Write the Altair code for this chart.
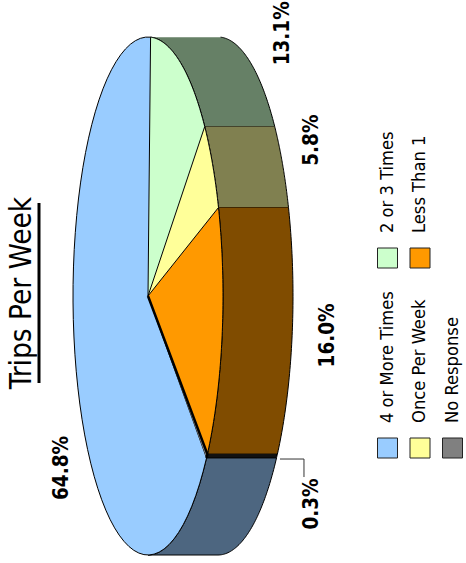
import altair as alt
import pandas as pd

# ---- data -------------------------------------------------------------
categories = ["4 or More Times", "2 or 3 Times", "Once Per Week", "Less Than 1", "No Response"]
shares = [64.8, 13.1, 5.8, 16.0, 0.3]
top_colors = ["#99ccff", "#ccffcc", "#ffff99", "#ff9900", "#808080"]
side_colors = ["#4d6680", "#668066", "#808050", "#804c00", "#111111"]
# small nudges of the percentage labels away from their radial anchor
label_dx = [23, 13, -9, -9, 0]
label_dy = [51, -1, -9, -5, 0]

title_text = "Trips Per Week"

# ---- geometry of the tilted, turned pie (drawing-area pixels) ----------
W, H = 466, 563
CX, CY = 148, 296          # centre of the top face
RX, RY = 75, 259           # semi-axes of the top face
DEPTH = 70                 # thickness of the pie
START = 128.7              # first slice start, degrees clockwise from top
N = 60                     # arc resolution per slice
LRX, LRY = 120, 290        # label ellipse
FONT = "Liberation Sans Narrow, Arial Narrow, DejaVu Sans Condensed, Liberation Sans, sans-serif"

slices = pd.DataFrame({
    "category": categories,
    "share": shares,
    "idx": list(range(len(categories))),
    "top": top_colors,
    "side": side_colors,
    "ldx": label_dx,
    "ldy": label_dy,
})

xs = alt.Scale(domain=[0, W], nice=False, zero=False)
ys = alt.Scale(domain=[0, H], nice=False, zero=False, reverse=True)


def xy(xf="px", yf="py"):
    return dict(
        x=alt.X(f"{xf}:Q", scale=xs, axis=None),
        y=alt.Y(f"{yf}:Q", scale=ys, axis=None),
    )


base = alt.Chart(slices).transform_window(
    cum="sum(share)", sort=[alt.SortField("idx")], frame=[None, 0]
).transform_joinaggregate(
    total="sum(share)"
).transform_calculate(
    a1=f"{START} + 360 * (datum.cum - datum.share) / datum.total",
    a2=f"{START} + 360 * datum.cum / datum.total",
    sw="datum.share < 1 ? 2.5 : 1",
)

# side walls: only the half facing the viewer
side = base.transform_calculate(
    k="floor(datum.a1 / 360)"
).transform_calculate(
    lo="max(datum.a1, datum.k * 360)",
    hi="min(datum.a2, datum.k * 360 + 180)",
).transform_filter(
    "datum.hi > datum.lo"
).transform_calculate(
    step=f"sequence(0, {2 * N + 2})"
).transform_flatten(["step"]).transform_calculate(
    t=f"datum.step <= {N} ? datum.step : {2 * N + 1} - datum.step",
).transform_calculate(
    ang=f"(datum.lo + (datum.hi - datum.lo) * datum.t / {N}) * PI / 180",
).transform_calculate(
    px=f"{CX} + {RX} * sin(datum.ang) + (datum.step > {N} ? {DEPTH} : 0)",
    py=f"{CY} - {RY} * cos(datum.ang)",
).mark_line(filled=True, stroke="black", strokeWidth=1, strokeJoin="round").encode(
    **xy(), order="step:Q", detail="category:N",
    color=alt.Color("side:N", scale=None),
)

# top faces: wedge from the centre along the arc
top = base.transform_calculate(
    step=f"sequence(-1, {N + 1})"
).transform_flatten(["step"]).transform_calculate(
    ang=f"(datum.a1 + (datum.a2 - datum.a1) * max(datum.step, 0) / {N}) * PI / 180",
).transform_calculate(
    px=f"datum.step < 0 ? {CX} : {CX} + {RX} * sin(datum.ang)",
    py=f"datum.step < 0 ? {CY} : {CY} - {RY} * cos(datum.ang)",
).mark_line(filled=True, stroke="black", strokeJoin="round").encode(
    **xy(), order="step:Q", detail="category:N",
    color=alt.Color("top:N", scale=None),
    strokeWidth=alt.StrokeWidth("sw:Q", scale=None),
)

# percentage labels of the larger slices
big_labels = base.transform_filter("datum.share >= 1").transform_calculate(
    mid="(datum.a1 + datum.a2) / 2 * PI / 180",
).transform_calculate(
    lx=f"{CX} + {LRX} * sin(datum.mid) + (sin(datum.mid) > 0 ? {DEPTH} : 0) + datum.ldx",
    ly=f"{CY} - {LRY} * cos(datum.mid) + datum.ldy",
    txt="format(datum.share, '.1f') + '%'",
).mark_text(angle=270, align="center", baseline="middle", fontSize=20.5,
            fontWeight="bold", font=FONT, color="black").encode(
    **xy("lx", "ly"), text="txt:N"
)

# tiny slices get a leader line from the outer wall
small = base.transform_filter("datum.share < 1").transform_calculate(
    mid="(datum.a1 + datum.a2) / 2 * PI / 180",
).transform_calculate(
    ex=f"{CX} + {RX} * sin(datum.mid) + {DEPTH}",
    ey=f"{CY} - {RY} * cos(datum.mid)",
    txt="format(datum.share, '.1f') + '%'",
)

leader = small.transform_calculate(step="sequence(0, 3)").transform_flatten(["step"]).transform_calculate(
    px="datum.ex + (datum.step == 0 ? 3 : 27)",
    py="datum.ey + (datum.step == 2 ? 21 : 3)",
).mark_line(stroke="#333333", strokeWidth=1).encode(
    **xy(), order="step:Q", detail="category:N"
)

small_labels = small.transform_calculate(
    lx="datum.ex + 35", ly="datum.ey + 48"
).mark_text(angle=270, align="center", baseline="middle", fontSize=20.5,
            fontWeight="bold", font=FONT, color="black").encode(
    **xy("lx", "ly"), text="txt:N"
)

# legend: two columns, filled row by row, drawn turned like the chart
legend_base = alt.Chart(slices).transform_calculate(
    row="floor(datum.idx / 2)",
    col="datum.idx % 2",
).transform_calculate(
    sx="387.5 + 32.5 * datum.row",
    sy="448 - 190 * datum.col",
).transform_calculate(
    tx="datum.sx",
    ty="datum.sy - 25",
)

legend_boxes = legend_base.mark_square(size=400, filled=True, stroke="#222222",
                                       strokeWidth=1, opacity=1).encode(
    **xy("sx", "sy"), color=alt.Color("top:N", scale=None)
)

legend_text = legend_base.mark_text(angle=270, align="left", baseline="middle",
                                    fontSize=18.2, font=FONT, color="black").encode(
    **xy("tx", "ty"), text="category:N"
)

# title, turned and underlined
title_df = pd.DataFrame({"title": [title_text]})
title = alt.Chart(title_df).mark_text(angle=270, align="center", baseline="middle",
                                      fontSize=29.5, font=FONT, color="black").encode(
    x=alt.value(22), y=alt.value(293), text="title:N"
)
underline = alt.Chart(title_df).mark_rule(color="black", strokeWidth=3).encode(
    x=alt.value(39), y=alt.value(203), y2=alt.value(383)
)

chart = alt.layer(
    side, top, big_labels, leader, small_labels,
    legend_boxes, legend_text, title, underline,
).properties(
    width=W, height=H,
    autosize=alt.AutoSizeParams(type="none"),
    padding=0,
    background="white",
).configure_view(stroke=None)

chart.save("out.html", embed_options={"renderer": "svg", "actions": False})
